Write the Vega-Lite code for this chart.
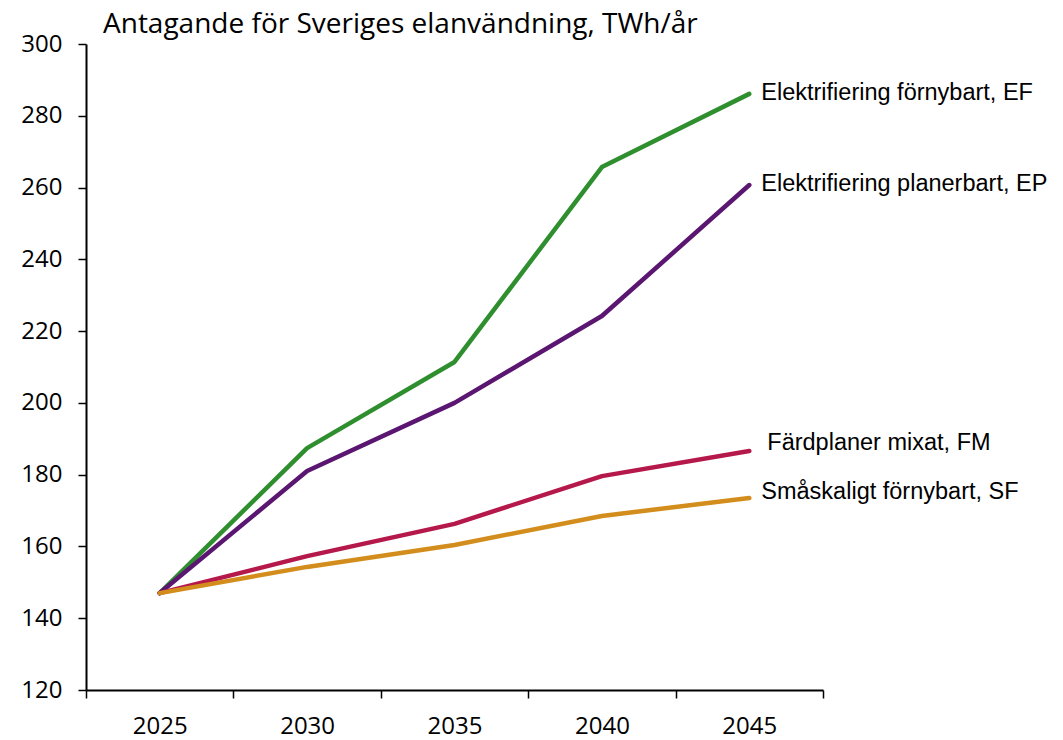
{
  "$schema": "https://vega.github.io/schema/vega-lite/v6.json",
  "autosize": "none",
  "width": 737,
  "height": 646,
  "padding": {"left": 86, "top": 44, "right": 240, "bottom": 50},
  "background": "white",
  "title": {
    "text": "Antagande för Sveriges elanvändning, TWh/år",
    "anchor": "start",
    "frame": "group",
    "dx": 17,
    "offset": -7,
    "font": "Open Sans",
    "fontSize": 28,
    "fontWeight": "normal",
    "color": "#000000"
  },
  "config": {
    "view": {"stroke": null},
    "axis": {"grid": false, "domainColor": "#000000", "tickColor": "#000000", "domainWidth": 2, "tickWidth": 1.5, "labelColor": "#000000", "labelFont": "Open Sans", "labelFontSize": 24, "title": null}
  },
  "data": {
    "values": [
      {"year": "2025", "series": "EF", "value": 147, "label": "Elektrifiering förnybart, EF"},
      {"year": "2030", "series": "EF", "value": 187.4, "label": "Elektrifiering förnybart, EF"},
      {"year": "2035", "series": "EF", "value": 211.4, "label": "Elektrifiering förnybart, EF"},
      {"year": "2040", "series": "EF", "value": 265.7, "label": "Elektrifiering förnybart, EF"},
      {"year": "2045", "series": "EF", "value": 286.1, "label": "Elektrifiering förnybart, EF"},
      {"year": "2025", "series": "EP", "value": 147, "label": "Elektrifiering planerbart, EP"},
      {"year": "2030", "series": "EP", "value": 181, "label": "Elektrifiering planerbart, EP"},
      {"year": "2035", "series": "EP", "value": 200, "label": "Elektrifiering planerbart, EP"},
      {"year": "2040", "series": "EP", "value": 224.2, "label": "Elektrifiering planerbart, EP"},
      {"year": "2045", "series": "EP", "value": 260.7, "label": "Elektrifiering planerbart, EP"},
      {"year": "2025", "series": "FM", "value": 147, "label": "Färdplaner mixat, FM"},
      {"year": "2030", "series": "FM", "value": 157.3, "label": "Färdplaner mixat, FM"},
      {"year": "2035", "series": "FM", "value": 166.3, "label": "Färdplaner mixat, FM"},
      {"year": "2040", "series": "FM", "value": 179.6, "label": "Färdplaner mixat, FM"},
      {"year": "2045", "series": "FM", "value": 186.6, "label": "Färdplaner mixat, FM"},
      {"year": "2025", "series": "SF", "value": 147, "label": "Småskaligt förnybart, SF"},
      {"year": "2030", "series": "SF", "value": 154.3, "label": "Småskaligt förnybart, SF"},
      {"year": "2035", "series": "SF", "value": 160.4, "label": "Småskaligt förnybart, SF"},
      {"year": "2040", "series": "SF", "value": 168.5, "label": "Småskaligt förnybart, SF"},
      {"year": "2045", "series": "SF", "value": 173.5, "label": "Småskaligt förnybart, SF"}
    ]
  },
  "encoding": {
    "x": {
      "field": "year", "type": "ordinal",
      "scale": {"type": "band", "paddingInner": 0, "paddingOuter": 0},
      "axis": {"labelAngle": 0, "tickBand": "extent", "tickSize": 8, "labelPadding": 16}
    },
    "y": {
      "field": "value", "type": "quantitative",
      "scale": {"domain": [120, 300], "nice": false, "zero": false},
      "axis": {"values": [120, 140, 160, 180, 200, 220, 240, 260, 280, 300], "tickSize": 8, "labelPadding": 16}
    },
    "color": {
      "field": "series", "type": "nominal", "legend": null,
      "scale": {"domain": ["EF", "EP", "FM", "SF"], "range": ["#2f8f2f", "#5a1670", "#b5194c", "#d38d1c"]}
    }
  },
  "layer": [
    {
      "mark": {"type": "line", "strokeWidth": 4.5, "strokeCap": "round", "strokeJoin": "round"},
      "encoding": {"order": {"field": "year"}}
    },
    {
      "transform": [{"filter": "datum.year == '2045' && (datum.series == 'EF' || datum.series == 'EP')"}],
      "mark": {"type": "text", "align": "left", "baseline": "middle", "dx": 12, "dy": -1, "font": "Liberation Sans", "fontSize": 23.5},
      "encoding": {"text": {"field": "label"}, "color": {"value": "#000000"}}
    },
    {
      "transform": [{"filter": "datum.year == '2045' && datum.series == 'FM'"}],
      "mark": {"type": "text", "align": "left", "baseline": "middle", "dx": 18, "dy": -8, "font": "Liberation Sans", "fontSize": 23.5},
      "encoding": {"text": {"field": "label"}, "color": {"value": "#000000"}}
    },
    {
      "transform": [{"filter": "datum.year == '2045' && datum.series == 'SF'"}],
      "mark": {"type": "text", "align": "left", "baseline": "middle", "dx": 12, "dy": -6, "font": "Liberation Sans", "fontSize": 23.5},
      "encoding": {"text": {"field": "label"}, "color": {"value": "#000000"}}
    }
  ]
}
